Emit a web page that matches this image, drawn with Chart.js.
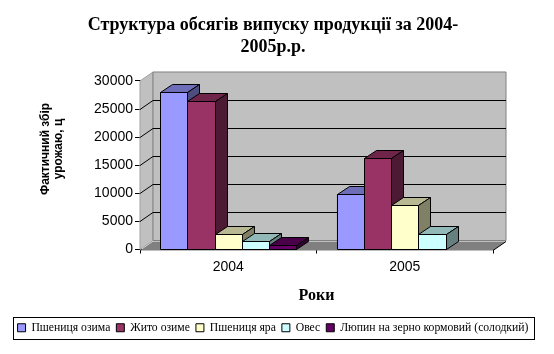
<!DOCTYPE html>
<html>
<head>
<meta charset="utf-8">
<script src="https://cdn.jsdelivr.net/npm/chart.js@4.4.0/dist/chart.umd.min.js"></script>
<style>
  body { margin: 0; background: #fff; }
</style>
</head>
<body>
<canvas id="chart" width="554" height="354"></canvas>
<script>
// Дані діаграми
const years = ["2004", "2005"];
const seriesNames = ["Пшениця озима", "Жито озиме", "Пшениця яра", "Овес", "Люпин на зерно кормовий (солодкий)"];
const pshenytsiaOzyma = [28000, 9900];
const zhytoOzyme = [26400, 16300];
const pshenytsiaYara = [2800, 7900];
const oves = [1500, 2800];
const liupyn = [800, null];
const yTicks = [0, 5000, 10000, 15000, 20000, 25000, 30000];

const seriesValues = [pshenytsiaOzyma, zhytoOzyme, pshenytsiaYara, oves, liupyn];
const colors = ["#9999FF", "#993366", "#FFFFCC", "#CCFFFF", "#660066"];

// затемнення кольору для граней
function shade(hex, k) {
    const n = parseInt(hex.slice(1), 16);
    const r = Math.round(((n >> 16) & 255) * k);
    const g = Math.round(((n >> 8) & 255) * k);
    const b = Math.round((n & 255) * k);
    return "rgb(" + r + "," + g + "," + b + ")";
}

function poly(ctx, pts, fill, stroke) {
    ctx.beginPath();
    ctx.moveTo(pts[0][0], pts[0][1]);
    for (let i = 1; i < pts.length; i++) ctx.lineTo(pts[i][0], pts[i][1]);
    ctx.closePath();
    if (fill) { ctx.fillStyle = fill; ctx.fill(); }
    if (stroke) { ctx.strokeStyle = stroke; ctx.lineWidth = 1; ctx.stroke(); }
}

// стіни, підлога, сітка і 3D грані стовпців
const WALL_DX = 13, WALL_DY = -9;
const BAR_DX = 12, BAR_DY = -8;

const excel3d = {
    id: "excel3d",
    beforeDatasetsDraw(chart) {
        const ctx = chart.ctx;
        const { left, right, top, bottom } = chart.chartArea;
        const y = chart.scales.y;
        ctx.save();
        // бокова стіна
        poly(ctx, [[left, top], [left + WALL_DX, top + WALL_DY], [left + WALL_DX, bottom + WALL_DY], [left, bottom]], "#c0c0c0", "#a0a0a0");
        // задня стіна
        poly(ctx, [[left + WALL_DX, top + WALL_DY], [right + WALL_DX, top + WALL_DY], [right + WALL_DX, bottom + WALL_DY], [left + WALL_DX, bottom + WALL_DY]], "#c0c0c0", "#808080");
        // лінії сітки
        ctx.strokeStyle = "#000";
        ctx.lineWidth = 1;
        yTicks.forEach(v => {
            if (v === 0 || v === yTicks[yTicks.length - 1]) return;
            const py = Math.round(y.getPixelForValue(v)) + 0.5;
            ctx.beginPath();
            ctx.moveTo(left, py);
            ctx.lineTo(left + WALL_DX, py + WALL_DY);
            ctx.lineTo(right + WALL_DX, py + WALL_DY);
            ctx.stroke();
        });
        // підлога
        const b = Math.round(bottom) + 0.5;
        poly(ctx, [[left, b], [left + WALL_DX, b + WALL_DY], [right + WALL_DX, b + WALL_DY], [right, b]], "#808080", null);
        ctx.beginPath();
        ctx.moveTo(right, b);
        ctx.lineTo(right + WALL_DX, b + WALL_DY);
        ctx.strokeStyle = "#000";
        ctx.stroke();
        ctx.restore();
    },
    afterDatasetsDraw(chart) {
        const ctx = chart.ctx;
        ctx.save();
        years.forEach((yr, i) => {
            seriesValues.forEach((vals, d) => {
                if (vals[i] == null) return;
                const el = chart.getDatasetMeta(d).data[i];
                const l = Math.round(el.x - el.width / 2) + 0.5;
                const r = Math.round(el.x + el.width / 2) + 0.5;
                const t = Math.round(el.y) + 0.5;
                const bs = Math.round(el.base) + 0.5;
                const c = colors[d];
                poly(ctx, [[l, t], [r, t], [r, bs], [l, bs]], c, "#000");
                poly(ctx, [[l, t], [l + BAR_DX, t + BAR_DY], [r + BAR_DX, t + BAR_DY], [r, t]], shade(c, 0.72), "#000");
                poly(ctx, [[r, t], [r + BAR_DX, t + BAR_DY], [r + BAR_DX, bs + BAR_DY], [r, bs]], shade(c, 0.5), "#000");
            });
        });
        ctx.restore();
    },
    afterDraw(chart) {
        const ctx = chart.ctx;
        ctx.save();
        // назва осі Y
        ctx.fillStyle = "#000";
        ctx.font = "bold 12px 'Liberation Sans', Arial, sans-serif";
        ctx.textAlign = "center";
        ctx.textBaseline = "middle";
        ctx.translate(46, 149);
        ctx.rotate(-Math.PI / 2);
        ctx.fillText("Фактичний збір", 0, 0);
        ctx.fillText("урожаю, ц", 0, 13);
        ctx.restore();

        // рамка легенди
        const boxes = chart.legend.legendHitBoxes;
        if (boxes && boxes.length) {
            const first = boxes[0], last = boxes[boxes.length - 1];
            const cy = first.top + first.height / 2;
            ctx.save();
            ctx.strokeStyle = "#000";
            ctx.lineWidth = 1;
            ctx.strokeRect(Math.round(first.left - 5) + 0.5, Math.round(cy - 11) + 0.5,
                Math.round(last.left + last.width - first.left + 10), 22);
            ctx.restore();
        }
    }
};

const datasets = seriesNames.map((name, d) => ({
    label: name,
    data: seriesValues[d],
    backgroundColor: colors[d],
    borderColor: "#000",
    borderWidth: 1,
    categoryPercentage: 0.77,
    barPercentage: 1.0
}));

const ctx = document.getElementById("chart").getContext("2d");
new Chart(ctx, {
    type: "bar",
    data: { labels: years, datasets: datasets },
    options: {
        responsive: false,
        animation: false,
        layout: { padding: { left: 0, right: 8, top: 0, bottom: 10.4 } },
        plugins: {
            title: {
                display: true,
                text: ["Структура обсягів випуску продукції за 2004-", "2005р.р."],
                color: "#000",
                font: { family: "'Liberation Serif', 'Times New Roman', serif", size: 18, weight: "bold", lineHeight: 1.222 },
                padding: { top: 14, bottom: 23 }
            },
            legend: {
                display: true,
                position: "bottom",
                labels: {
                    color: "#000",
                    boxWidth: 8,
                    boxHeight: 8,
                    padding: 6,
                    font: { family: "'Liberation Serif', 'Times New Roman', serif", size: 11.7 }
                }
            },
            tooltip: { enabled: false }
        },
        scales: {
            x: {
                grid: { display: true, drawOnChartArea: false, tickLength: 4, color: "#000", offset: true },
                border: { display: true, color: "#000" },
                ticks: { color: "#000", padding: 5, font: { family: "'Liberation Sans', Arial, sans-serif", size: 14 } },
                title: {
                    display: true,
                    text: "Роки",
                    color: "#000",
                    font: { family: "'Liberation Serif', 'Times New Roman', serif", size: 16, weight: "bold" },
                    padding: { top: 4, bottom: 10.8 }
                },
                afterFit: s => { s.height = 66.4; }
            },
            y: {
                min: 0,
                max: 30000,
                afterBuildTicks: s => { s.ticks = yTicks.map(v => ({ value: v })); },
                grid: { display: true, drawOnChartArea: false, tickLength: 5, color: "#000" },
                border: { display: true, color: "#000" },
                ticks: {
                    color: "#000",
                    padding: 2,
                    font: { family: "'Liberation Sans', Arial, sans-serif", size: 14 },
                    callback: v => String(v)
                },
                afterFit: s => { s.width = 140; }
            },
            yRight: {
                position: "right",
                display: true,
                grid: { display: false },
                border: { display: false },
                ticks: { display: false },
                afterFit: s => { s.width = 53; }
            }
        }
    },
    plugins: [excel3d]
});
</script>
</body>
</html>
